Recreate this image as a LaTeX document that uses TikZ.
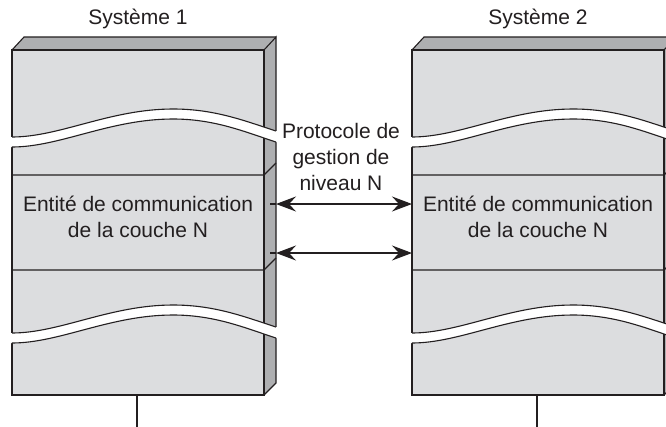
\documentclass[tikz,border=0pt]{standalone}
\usepackage{fontspec}
\setmainfont{Liberation Sans}
\usetikzlibrary{arrows.meta}
\definecolor{face}{HTML}{DCDDDF}
\definecolor{side}{HTML}{AEAFB1}
\definecolor{ink}{HTML}{231F20}
\tikzset{
  outline/.style={draw=ink,line width=1.1pt,line join=miter},
  lbl/.style={font=\fontsize{21}{26}\selectfont, text=ink, inner sep=0pt, align=center},
  link/.style={draw=ink,line width=1.1pt,{Stealth[length=20pt,width=15pt,inset=7pt]}-{Stealth[length=20pt,width=15pt,inset=7pt]}},
}
\newcommand\mygap{%
  \fill[white] (8,137) -- (12,137) .. controls (60,137) and (110,109) .. (173,109)
     .. controls (215,109) and (245,121) .. (276,131) -- (280,131) -- (280,142) -- (276,142)
     .. controls (245,132) and (215,119) .. (173,119) .. controls (110,119) and (60,147) .. (12,147) -- (8,147) -- cycle;
  \draw[outline] (12,137) .. controls (60,137) and (110,109) .. (173,109)
     .. controls (215,109) and (245,121) .. (276,131);
  \draw[outline] (12,147) .. controls (60,147) and (110,119) .. (173,119)
     .. controls (215,119) and (245,132) .. (276,142);
}
\newcommand\mysystem[1]{%
  \fill[face] (12,50) rectangle (264,395);
  \fill[side] (264,50) -- (276,37) -- (276,383) -- (264,395) -- cycle;
  \fill[side] (12,50) -- (24,37) -- (276,37) -- (264,50) -- cycle;
  \draw[outline] (12,50) rectangle (264,395);
  \draw[outline] (264,50) -- (276,37) -- (276,383) -- (264,395);
  \draw[outline] (12,50) -- (24,37) -- (276,37);
  \mygap
  \begin{scope}[yshift=-196pt]\mygap\end{scope}
  \draw[outline] (12,175) -- (264,175) -- (276,163);
  \draw[outline] (12,270) -- (264,270) -- (276,258);
  \coordinate (base#1) at (137,395);
  \coordinate (foot#1) at (137,430);
  \draw[outline] (base#1) -- (foot#1);
}
\begin{document}
\begin{tikzpicture}[x=1pt,y=-1pt]
\useasboundingbox (0,0) rectangle (666,426);
\clip (0,0) rectangle (666,426);
\fill[white] (0,0) rectangle (666,426);
\begin{scope}\mysystem{1}\end{scope}
\begin{scope}[xshift=400pt]\mysystem{2}\end{scope}
\node[lbl] (s1) at (138,19) {Système 1};
\node[lbl] (s2) at (538,19) {Système 2};
\node[lbl] (e1) at (138,217) {Entité de communication\\de la couche N};
\node[lbl] (e2) at (538,217) {Entité de communication\\de la couche N};
\node[lbl] (p) at (341,157) {Protocole de\\gestion de\\niveau N};
\coordinate (a1) at (270,204);
\coordinate (l1) at (276,204);
\coordinate (r1) at (412,204);
\coordinate (a2) at (270,253);
\coordinate (l2) at (276,253);
\coordinate (r2) at (412,253);
\draw[outline] (a1) -- (l1);
\draw[outline] (a2) -- (l2);
\draw[link] (l1) -- (r1);
\draw[link] (l2) -- (r2);
\end{tikzpicture}
\end{document}
